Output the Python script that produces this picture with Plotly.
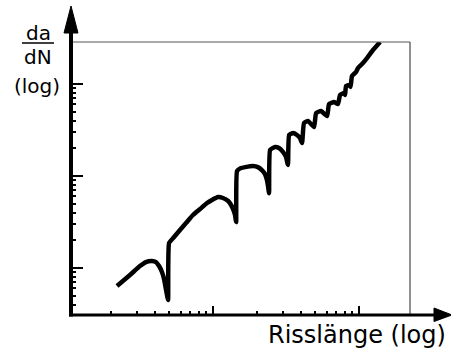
import plotly.graph_objects as go

# ---- data ----
crack_length = [2.20, 2.70, 3.16, 3.47, 3.82, 4.07, 4.27, 4.47, 4.62, 4.77, 4.92,
                5.00, 5.41, 5.94, 6.53, 7.29, 8.15, 9.10, 9.84, 10.8, 11.7, 12.7, 13.3, 13.7, 14.15, 14.4,
                14.6, 15.55, 16.6, 18.8, 20.3, 21.6, 22.7, 23.4, 23.8, 24.2,
                24.6, 26.6, 28.3, 30.2, 31.6, 32.6,
                33.2, 35.3, 37.6, 39.4, 40.7,
                42.0, 44.7, 49.2,
                50.8, 54.9, 60.4,
                62.3, 67.4, 71.8,
                74.1, 79.0, 80.2,
                81.5, 85.4, 87.4,
                89.5, 95.4, 98.4, 104.8, 113.4, 124.7, 139.3]

da_dN = [0.637, 0.839, 1.05, 1.16, 1.19, 1.16, 1.05, 0.905, 0.76, 0.577, 0.45,
         1.87, 2.17, 2.59, 3.08, 3.77, 4.38, 5.09, 5.49, 5.91, 5.77, 5.35, 4.84, 4.38, 3.77, 3.16,
         11.3, 12.2, 12.5, 12.85, 12.5, 11.6, 10.5, 9.05, 7.79, 6.5,
         19.2, 20.7, 20.15, 18.2, 16.1, 13.2,
         27.9, 29.3, 27.9, 25.9, 22.8,
         37.7, 39.6, 34.1,
         48.4, 50.9, 44.9,
         60.6, 63.7, 60.6,
         75.9, 79.8, 76.0,
         95.1, 97.5, 93.0,
         122.2, 135.0, 149.3, 165.0, 191.7, 234.2, 286.2]

x_major = [10, 100]
x_minor = [2, 3, 4, 5, 6, 7, 8, 9, 20, 30, 40, 50, 60, 70, 80, 90]
y_major = [1, 10, 100]
y_minor = [0.4, 0.5, 0.6, 0.7, 0.8, 0.9, 2, 3, 4, 5, 6, 7, 8, 9, 20, 30, 40, 50, 60, 70, 80, 90]

x_title = "Risslänge (log)"
y_title_num = "da"
y_title_den = "dN"
y_title_log = "(log)"

# ---- layout geometry ----
W, H = 451, 349
L, R, T, B = 71, 41, 42, 34
pw, ph = W - L - R, H - T - B


def px(xp):
    return (xp - L) / pw


def py(yp):
    return (H - B - yp) / ph


FONT = "DejaVu Sans"

fig = go.Figure(go.Scatter(x=crack_length, y=da_dN, mode="lines",
                           line=dict(color="black", width=4.5, shape="spline", smoothing=0.4),
                           hoverinfo="skip"))

fig.update_layout(
    width=W, height=H, margin=dict(l=L, r=R, t=T, b=B),
    paper_bgcolor="white", plot_bgcolor="white", showlegend=False,
    xaxis=dict(type="log", range=[0.0274, 2.349], tickmode="array", tickvals=x_major,
               ticks="inside", ticklen=9, tickwidth=1.5, tickcolor="black",
               showticklabels=False, showgrid=False, zeroline=False, showline=False,
               minor=dict(tickmode="array", tickvals=x_minor, ticks="inside", ticklen=4,
                          tickwidth=1.5, tickcolor="black", showgrid=False)),
    yaxis=dict(type="log", range=[-0.511, 2.457], tickmode="array", tickvals=y_major,
               ticks="inside", ticklen=12, tickwidth=1.5, tickcolor="black",
               showticklabels=False, showgrid=False, zeroline=False, showline=False,
               minor=dict(tickmode="array", tickvals=y_minor, ticks="inside", ticklen=5,
                          tickwidth=1.5, tickcolor="black", showgrid=False)),
)

shapes = [
    # thin frame (top and right)
    dict(type="line", xref="paper", yref="paper", x0=0, y0=1, x1=1, y1=1,
         line=dict(color="#555555", width=1)),
    dict(type="line", xref="paper", yref="paper", x0=1, y0=0, x1=1, y1=1,
         line=dict(color="#222222", width=1)),
    # thick y axis with arrow
    dict(type="line", xref="paper", yref="paper", x0=0, y0=py(316.5), x1=0, y1=py(25),
         line=dict(color="black", width=4)),
    dict(type="path", xref="paper", yref="paper",
         path=f"M {px(64)},{py(33)} L {px(78)},{py(33)} L {px(71)},{py(6)} Z",
         fillcolor="black", line=dict(color="black", width=1)),
    # thick x axis with arrow
    dict(type="line", xref="paper", yref="paper", x0=px(69), y0=0, x1=px(438), y1=0,
         line=dict(color="black", width=3)),
    dict(type="path", xref="paper", yref="paper",
         path=f"M {px(434)},{py(308)} L {px(434)},{py(321.5)} L {px(452)},{py(315)} Z",
         fillcolor="black", line=dict(color="black", width=1)),
    # fraction bar
    dict(type="line", xref="paper", yref="paper", x0=px(22), y0=py(43), x1=px(54), y1=py(43),
         line=dict(color="black", width=1.5)),
]
fig.update_layout(shapes=shapes)

anns = [
    dict(text=y_title_num, x=px(38), y=py(33), size=20),
    dict(text=y_title_den, x=px(38), y=py(57), size=20),
    dict(text=y_title_log, x=px(37), y=py(86), size=20),
    dict(text=x_title, x=px(357), y=py(334.5), size=24),
]
for a in anns:
    size = a.pop("size")
    fig.add_annotation(xref="paper", yref="paper", showarrow=False, xanchor="center",
                       yanchor="middle", font=dict(family=FONT, size=size, color="black"), **a)

fig.write_html("out.html", config={"displayModeBar": False},
               post_script="document.body.style.margin='0';document.body.style.overflow='hidden';")
